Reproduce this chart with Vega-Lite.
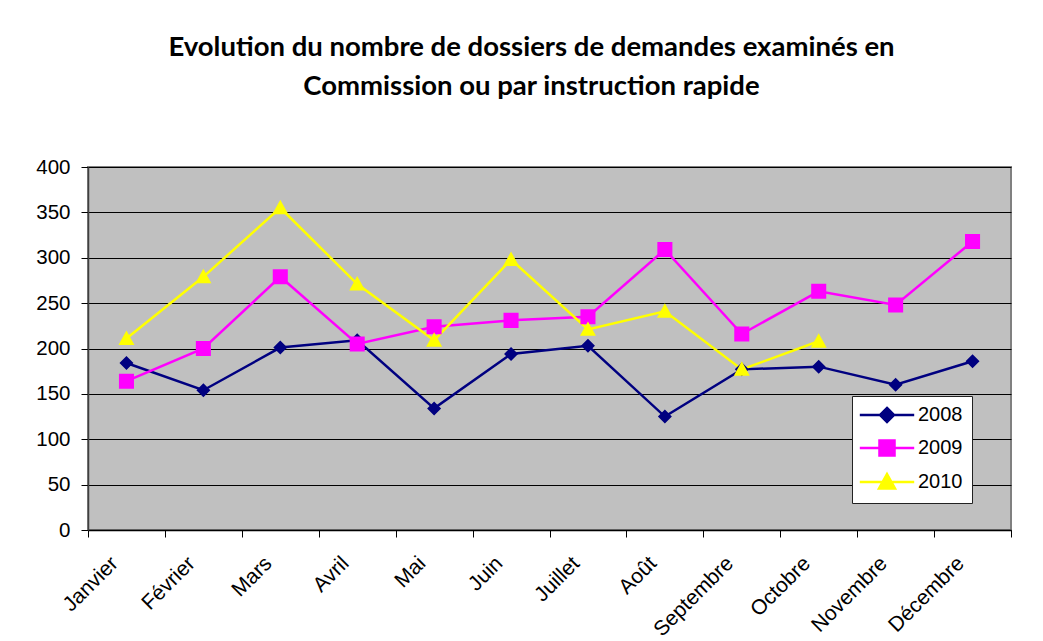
{
  "$schema": "https://vega.github.io/schema/vega-lite/v6.json",
  "width": 923,
  "height": 363,
  "autosize": {"type": "none"},
  "padding": {"left": 88, "top": 167, "right": 32, "bottom": 111},
  "background": "white",
  "title": {
    "text": ["Evolution du nombre de dossiers de demandes examinés en", "Commission ou par instruction rapide"],
    "font": "Lato",
    "fontSize": 27.5,
    "fontWeight": "bold",
    "color": "black",
    "lineHeight": 39,
    "anchor": "middle",
    "dx": -18,
    "offset": 57
  },
  "config": {
    "view": {"fill": "#C0C0C0", "stroke": "#808080", "strokeWidth": 2},
    "axis": {"labelFont": "Liberation Sans", "labelColor": "black", "tickColor": "black", "title": null}
  },
  "data": {
    "values": [
      {"month": "Janvier", "year": "2008", "value": 184},
      {"month": "Février", "year": "2008", "value": 154},
      {"month": "Mars", "year": "2008", "value": 201},
      {"month": "Avril", "year": "2008", "value": 209},
      {"month": "Mai", "year": "2008", "value": 134},
      {"month": "Juin", "year": "2008", "value": 194},
      {"month": "Juillet", "year": "2008", "value": 203},
      {"month": "Août", "year": "2008", "value": 125},
      {"month": "Septembre", "year": "2008", "value": 177},
      {"month": "Octobre", "year": "2008", "value": 180},
      {"month": "Novembre", "year": "2008", "value": 160},
      {"month": "Décembre", "year": "2008", "value": 186},
      {"month": "Janvier", "year": "2009", "value": 164},
      {"month": "Février", "year": "2009", "value": 200},
      {"month": "Mars", "year": "2009", "value": 279},
      {"month": "Avril", "year": "2009", "value": 205},
      {"month": "Mai", "year": "2009", "value": 224},
      {"month": "Juin", "year": "2009", "value": 231},
      {"month": "Juillet", "year": "2009", "value": 235},
      {"month": "Août", "year": "2009", "value": 309},
      {"month": "Septembre", "year": "2009", "value": 216},
      {"month": "Octobre", "year": "2009", "value": 263},
      {"month": "Novembre", "year": "2009", "value": 248},
      {"month": "Décembre", "year": "2009", "value": 318},
      {"month": "Janvier", "year": "2010", "value": 211},
      {"month": "Février", "year": "2010", "value": 279},
      {"month": "Mars", "year": "2010", "value": 355},
      {"month": "Avril", "year": "2010", "value": 271},
      {"month": "Mai", "year": "2010", "value": 209},
      {"month": "Juin", "year": "2010", "value": 298},
      {"month": "Juillet", "year": "2010", "value": 221},
      {"month": "Août", "year": "2010", "value": 241},
      {"month": "Septembre", "year": "2010", "value": 177},
      {"month": "Octobre", "year": "2010", "value": 208}
    ]
  },
  "encoding": {
    "x": {
      "field": "month",
      "type": "ordinal",
      "sort": ["Janvier", "Février", "Mars", "Avril", "Mai", "Juin", "Juillet", "Août", "Septembre", "Octobre", "Novembre", "Décembre"],
      "scale": {"type": "band", "paddingInner": 0, "paddingOuter": 0},
      "bandPosition": 0.5,
      "axis": {
        "tickBand": "extent",
        "grid": false,
        "labelAngle": -45,
        "labelAlign": "right",
        "labelBaseline": "middle",
        "labelFontSize": 21,
        "labelPadding": 23,
        "labelOffset": -12,
        "tickSize": 7,
        "domainColor": "black",
        "domainWidth": 1.5
      }
    },
    "y": {
      "field": "value",
      "type": "quantitative",
      "scale": {"domain": [0, 400], "nice": false},
      "axis": {
        "values": [0, 50, 100, 150, 200, 250, 300, 350, 400],
        "grid": true,
        "gridColor": "black",
        "gridWidth": 1,
        "gridOpacity": 1,
        "labelFontSize": 20.5,
        "labelPadding": 11,
        "tickSize": 7,
        "domainColor": "#404040",
        "domainWidth": 1.5
      }
    },
    "color": {
      "field": "year",
      "type": "nominal",
      "scale": {"domain": ["2008", "2009", "2010"], "range": ["#000080", "#FF00FF", "#FFFF00"]},
      "legend": {
        "title": null,
        "orient": "none",
        "legendX": 764,
        "legendY": 229,
        "fillColor": "white",
        "strokeColor": "#222222",
        "padding": 9,
        "cornerRadius": 0,
        "labelFont": "Liberation Sans",
        "labelFontSize": 20,
        "labelColor": "black",
        "symbolSize": 256,
        "rowPadding": 8,
        "labelOffset": 21,
        "symbolOffset": 16,
        "symbolStrokeWidth": 2.5,
        "encode": {
          "symbols": {
            "update": {
              "stroke": {"scale": "color", "field": "value"},
              "strokeWidth": {"value": 2.5},
              "size": {"value": 256}
            }
          }
        }
      }
    }
  },
  "layer": [
    {"mark": {"type": "line", "strokeWidth": 2.5}},
    {
      "mark": {"type": "point", "filled": true, "size": 256, "opacity": 1},
      "encoding": {
        "shape": {
          "field": "year",
          "type": "nominal",
          "scale": {
            "domain": ["2008", "2009", "2010"],
            "range": [
              "M-3.4,0H3.4M0,-0.875L0.875,0L0,0.875L-0.875,0Z",
              "M-3.4,0H3.4M-0.94,-0.94H0.94V0.94H-0.94Z",
              "M-3.4,0H3.4M0,-1L1,0.8L-1,0.8Z"
            ]
          }
        }
      }
    }
  ]
}
